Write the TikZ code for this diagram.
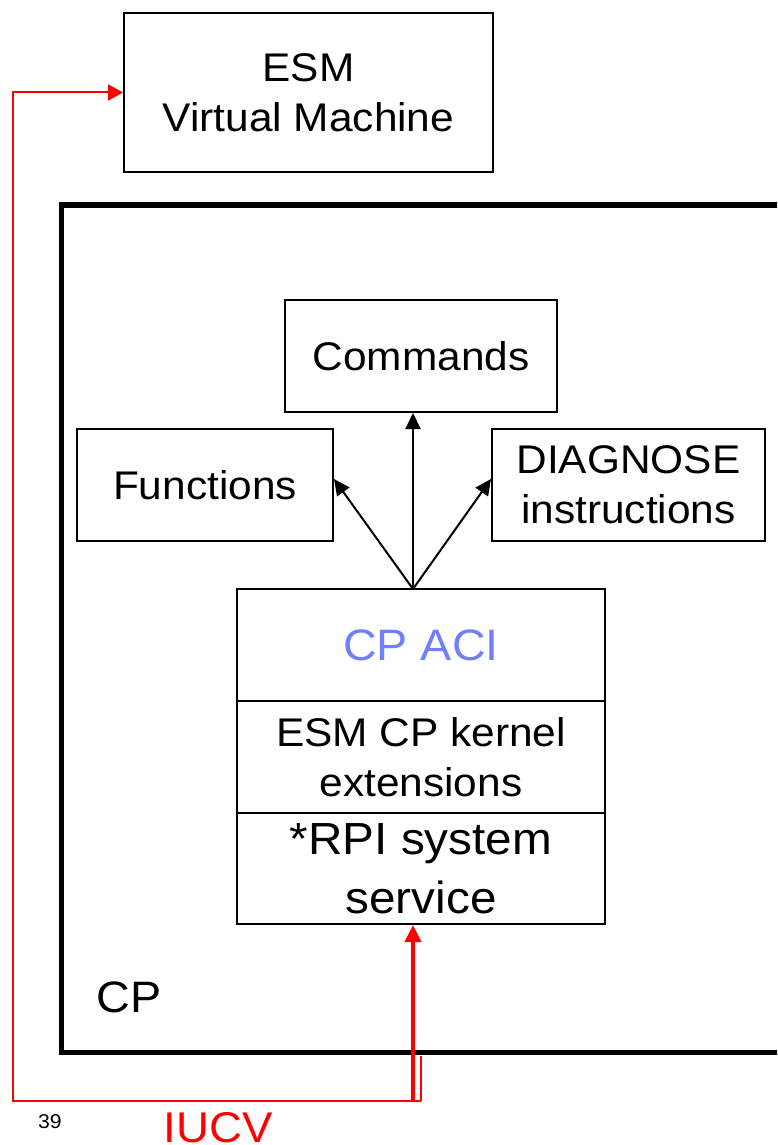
\documentclass[tikz,border=0pt]{standalone}
\usepackage{fontspec}
\setmainfont{Liberation Sans}[FakeStretch=1.06]
\usetikzlibrary{arrows.meta}
\definecolor{aciblue}{RGB}{112,128,250}
\begin{document}
\begin{tikzpicture}[x=1pt,y=-1pt,
  box/.style={draw, line width=2pt, inner sep=0pt, align=center,
    font=\fontsize{40}{50}\selectfont},
  link/.style={line width=2pt, -{Triangle[length=16pt,width=15pt]}},
  iucvline/.style={red, line width=2pt},
]
\clip (0,0) rectangle (777,1145);

% virtual machine
\node[box, minimum width=369pt, minimum height=159pt] (esm) at (308.5,92.5) {ESM\\Virtual Machine};

% CP container (runs off the right edge)
\node[draw, line width=5.3pt, inner sep=0pt, minimum width=760pt, minimum height=847.5pt] (cp) at (441.7,628.75) {};
\node[font=\fontsize{44}{50}\selectfont, anchor=base] (cplabel) at (129,1012) {CP};

% interfaces
\node[box, minimum width=272pt, minimum height=112pt] (cmd) at (421,356) {Commands};
\node[box, minimum width=256pt, minimum height=112pt] (func) at (205,485) {Functions};
\node[box, minimum width=273pt, minimum height=112pt] (diag) at (628.5,485) {DIAGNOSE\\instructions};

% layered stack
\node[box, minimum width=368pt, minimum height=112pt, text=aciblue, font=\fontsize{44}{50}\selectfont] (aci) at (421,645) {CP ACI};
\node[box, minimum width=368pt, minimum height=112pt] (ext) at (421,757) {ESM CP kernel\\extensions};
\node[box, minimum width=368pt, minimum height=111pt, font=\fontsize{45}{59}\selectfont] (rpi) at (421,868.5) {*RPI system\\service};

% fan of arrows from the ACI
\coordinate (fan) at (413,589);
\draw[link] (fan) -- (fan |- cmd.south);
\draw[link] (fan) -- ([yshift=6pt]func.east);
\draw[link] (fan) -- ([yshift=6pt]diag.west);

% IUCV path
\coordinate (tap) at (421,1056);
\coordinate (tapfoot) at (421,1101);
\coordinate (loopfoot) at (13,1101);
\coordinate (iucvbase) at (413,1101);
\draw[red, line width=1.4pt] (tap) -- (tapfoot);
\draw[iucvline, -{Triangle[length=15pt,width=16pt]}] (tapfoot) -- (loopfoot) |- (esm.west);
\draw[red, line width=4pt, -{Triangle[length=17pt,width=16pt]}] (iucvbase) -- (iucvbase |- rpi.south);

\node[text=red, font=\fontsize{43}{50}\selectfont, anchor=base] (iucv) at (218,1142) {IUCV};
\node[font=\fontsize{20}{24}\selectfont, anchor=base] (pg) at (50,1128) {39};
\end{tikzpicture}
\end{document}
